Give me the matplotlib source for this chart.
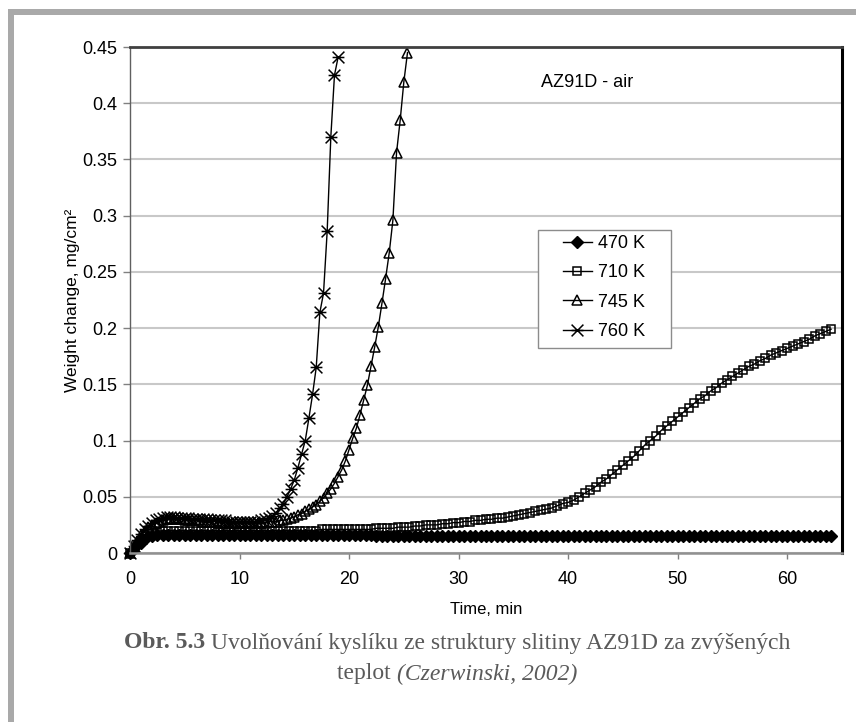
import numpy as np
import matplotlib
matplotlib.use("Agg")
import matplotlib.pyplot as plt
from matplotlib.path import Path
from matplotlib.patches import Rectangle

plt.rcParams['font.family'] = ['Liberation Sans', 'DejaVu Sans']

# weight change (mg/cm2)
# 470 K and 710 K sampled every 0.5 min, 745 K and 760 K every 1/3 min
w470 = [0.000, 0.005, 0.009, 0.013, 0.015, 0.016, 0.016, 0.016, 0.016, 0.016,
        0.016, 0.016, 0.016, 0.016, 0.016, 0.016, 0.016, 0.016, 0.016, 0.016,
        0.016, 0.016, 0.016, 0.016, 0.016, 0.016, 0.016, 0.016, 0.016, 0.016,
        0.016, 0.016, 0.016, 0.016, 0.016, 0.016, 0.016, 0.016, 0.016, 0.016,
        0.016, 0.016, 0.016, 0.016, 0.016, 0.015, 0.015, 0.015, 0.015, 0.015,
        0.015, 0.015, 0.015, 0.015, 0.015, 0.015, 0.015, 0.015, 0.015, 0.015,
        0.015, 0.015, 0.015, 0.015, 0.015, 0.015, 0.015, 0.015, 0.015, 0.015,
        0.015, 0.015, 0.015, 0.015, 0.015, 0.015, 0.015, 0.015, 0.015, 0.015,
        0.015, 0.015, 0.015, 0.015, 0.015, 0.015, 0.015, 0.015, 0.015, 0.015,
        0.015, 0.015, 0.015, 0.015, 0.015, 0.015, 0.015, 0.015, 0.015, 0.015,
        0.015, 0.015, 0.015, 0.015, 0.015, 0.015, 0.015, 0.015, 0.015, 0.015,
        0.015, 0.015, 0.015, 0.015, 0.015, 0.015, 0.015, 0.015, 0.015, 0.015,
        0.015, 0.015, 0.015, 0.015, 0.015, 0.015, 0.015, 0.015, 0.015]

w710 = [0.000, 0.006, 0.011, 0.015, 0.018, 0.019, 0.020, 0.020, 0.020, 0.020,
        0.020, 0.020, 0.020, 0.020, 0.020, 0.020, 0.020, 0.020, 0.020, 0.020,
        0.020, 0.020, 0.020, 0.020, 0.020, 0.020, 0.020, 0.020, 0.020, 0.020,
        0.020, 0.020, 0.020, 0.020, 0.020, 0.021, 0.021, 0.021, 0.021, 0.021,
        0.021, 0.021, 0.021, 0.021, 0.021, 0.022, 0.022, 0.022, 0.022, 0.023,
        0.023, 0.023, 0.024, 0.024, 0.025, 0.025, 0.025, 0.026, 0.026, 0.027,
        0.027, 0.028, 0.028, 0.029, 0.029, 0.030, 0.030, 0.031, 0.031, 0.032,
        0.033, 0.034, 0.035, 0.036, 0.037, 0.038, 0.039, 0.040, 0.042, 0.044,
        0.045, 0.047, 0.050, 0.053, 0.056, 0.059, 0.063, 0.066, 0.070, 0.074,
        0.078, 0.082, 0.086, 0.091, 0.096, 0.100, 0.104, 0.109, 0.113, 0.117,
        0.121, 0.125, 0.129, 0.133, 0.137, 0.140, 0.144, 0.147, 0.151, 0.154,
        0.157, 0.160, 0.163, 0.166, 0.168, 0.171, 0.173, 0.176, 0.178, 0.180,
        0.182, 0.184, 0.186, 0.188, 0.190, 0.193, 0.195, 0.197, 0.199]

w745 = [0.000, 0.005, 0.011, 0.016, 0.020, 0.023, 0.025, 0.027, 0.028, 0.029,
        0.030, 0.030, 0.030, 0.030, 0.030, 0.029, 0.029, 0.029, 0.029, 0.029,
        0.028, 0.028, 0.028, 0.028, 0.027, 0.027, 0.027, 0.027, 0.027, 0.027,
        0.027, 0.027, 0.027, 0.027, 0.027, 0.027, 0.027, 0.027, 0.028, 0.028,
        0.028, 0.029, 0.029, 0.030, 0.031, 0.032, 0.034, 0.035, 0.037, 0.039,
        0.041, 0.043, 0.046, 0.049, 0.053, 0.057, 0.062, 0.068, 0.074, 0.082,
        0.092, 0.102, 0.111, 0.123, 0.136, 0.149, 0.166, 0.183, 0.201, 0.222,
        0.244, 0.267, 0.296, 0.356, 0.385, 0.419, 0.445]

w760 = [0.000, 0.006, 0.012, 0.017, 0.021, 0.024, 0.027, 0.029, 0.030, 0.031,
        0.032, 0.032, 0.032, 0.031, 0.031, 0.031, 0.031, 0.030, 0.030, 0.030,
        0.030, 0.030, 0.029, 0.029, 0.029, 0.029, 0.029, 0.028, 0.028, 0.028,
        0.028, 0.028, 0.028, 0.028, 0.028, 0.028, 0.029, 0.030, 0.031, 0.033,
        0.036, 0.040, 0.044, 0.050, 0.057, 0.065, 0.076, 0.088, 0.100, 0.120,
        0.141, 0.165, 0.214, 0.231, 0.286, 0.370, 0.425, 0.441]

time_half = np.arange(len(w470)) * 0.5
time_third_745 = np.arange(len(w745)) / 3
time_third_760 = np.arange(len(w760)) / 3

labels = ['470 K', '710 K', '745 K', '760 K']
x_ticks = [0, 10, 20, 30, 40, 50, 60]
y_ticks = [0, 0.05, 0.1, 0.15, 0.2, 0.25, 0.3, 0.35, 0.4, 0.45]
y_tick_labels = ['0', '0.05', '0.1', '0.15', '0.2', '0.25', '0.3', '0.35', '0.4', '0.45']

# x with a bar through it, like the excel marker
star = Path([(-1, -1), (1, 1), (-1, 1), (1, -1), (-1, 0), (1, 0)],
            [Path.MOVETO, Path.LINETO, Path.MOVETO, Path.LINETO, Path.MOVETO, Path.LINETO])

fig = plt.figure(figsize=(8.56, 7.22), dpi=100)
W, H = 856, 722

# grey page frame on left and top
fig.add_artist(Rectangle((8 / W, 0), 6 / W, 1 - 9 / H, transform=fig.transFigure,
                         color='#a9a9a9', lw=0))
fig.add_artist(Rectangle((8 / W, 1 - 15 / H), 1, 6 / H, transform=fig.transFigure,
                         color='#a9a9a9', lw=0))

ax = fig.add_axes([130 / W, 1 - 553 / H, 712 / W, 506 / H])

ax.plot(time_half, w470, color='black', lw=1, marker='D', ms=6.5,
        mfc='black', mec='black', clip_on=False, label=labels[0])
ax.plot(time_half, w710, color='black', lw=1, marker='s', ms=5.5,
        mfc='none', mec='black', mew=1.1, clip_on=False, label=labels[1])
ax.plot(time_third_745, w745, color='black', lw=1, marker='^', ms=7,
        mfc='none', mec='black', mew=1.1, clip_on=False, label=labels[2])
ax.plot(time_third_760, w760, color='black', lw=1, marker=star, ms=8.5,
        mfc='none', mec='black', mew=1.1, clip_on=False, label=labels[3])

ax.set_xlim(0, 65)
ax.set_ylim(0, 0.45)
ax.set_xticks(x_ticks)
ax.set_xticklabels([str(v) for v in x_ticks])
ax.set_yticks(y_ticks)
ax.set_yticklabels(y_tick_labels)
ax.tick_params(axis='x', direction='out', length=4, width=1, color='#808080',
               labelsize=13, pad=9)
ax.tick_params(axis='y', direction='out', length=5, width=1, color='#808080',
               labelsize=13, pad=4)
ax.yaxis.grid(True, color='#c8c8c8', lw=1.5)
ax.set_axisbelow(True)

ax.spines['left'].set_color('#606060')
ax.spines['left'].set_linewidth(1)
ax.spines['bottom'].set_color('#909090')
ax.spines['bottom'].set_linewidth(1.8)
ax.spines['top'].set_color('#404040')
ax.spines['top'].set_linewidth(2)
ax.spines['right'].set_color('black')
ax.spines['right'].set_linewidth(2.2)

ax.set_xlabel('Time, min', fontsize=12, labelpad=10)
ax.set_ylabel('Weight change, mg/cm²', fontsize=12.5, labelpad=2)

ax.text(0.577, 0.929, 'AZ91D - air', transform=ax.transAxes, fontsize=13,
        va='center', ha='left')

# legend box drawn by hand so it sits where the original one is
ax.add_patch(Rectangle(((538 - 130) / 712, (553 - 348) / 506), 133 / 712, 118 / 506,
                       transform=ax.transAxes, facecolor='white', edgecolor='#8c8c8c',
                       lw=1, zorder=5))
leg = ax.legend(loc='upper left', bbox_to_anchor=((563 - 130) / 712, (553 - 235) / 506),
                frameon=False, borderpad=0, borderaxespad=0, fontsize=13,
                handlelength=1.6, handletextpad=0.35, labelspacing=0.68)
leg.set_zorder(6)

# caption with mixed bold / italic runs
def caption_line(parts, y):
    texts = [fig.text(0, y, s, fontsize=17, color='#5a5a5a', va='center',
                      family='Liberation Serif', **kw) for s, kw in parts]
    r = fig.canvas.get_renderer()
    widths = [t.get_window_extent(r).width for t in texts]
    x = 457 - sum(widths) / 2
    for t, w in zip(texts, widths):
        t.set_x(x / W)
        x += w

caption_line([('Obr. 5.3', {'weight': 'bold'}),
              (' Uvolňování kyslíku ze struktury slitiny AZ91D za zvýšených', {})],
             1 - 643 / H)
caption_line([('teplot ', {}), ('(Czerwinski, 2002)', {'style': 'italic'})],
             1 - 674 / H)

fig.savefig('out.png', dpi=100)
